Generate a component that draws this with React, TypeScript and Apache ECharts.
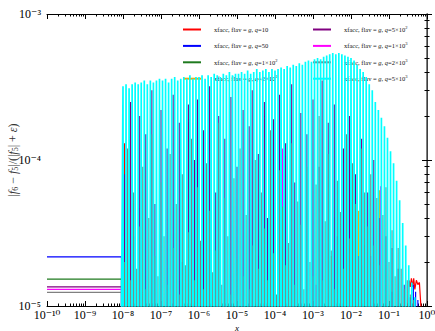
import React, { useEffect, useRef } from 'react';
import * as echarts from 'echarts';

const X_MIN = 1e-10;
const X_MAX = 1;
const Y_MIN = 1e-5;
const Y_MAX = 1e-3;
const FLOOR = 1e-15; // far off-chart trough level

const SERIES_NAMES = ['q10', 'q50', 'q1e2', 'q2e2', 'q5e2', 'q1e3', 'q2e3', 'q5e3'];
const LEGEND_LABELS: Record<string, string> = {
  q10: 'xfacc, flav = {i|g}, {i|q}=10',
  q50: 'xfacc, flav = {i|g}, {i|q}=50',
  q1e2: 'xfacc, flav = {i|g}, {i|q}=1×10{s|2}',
  q2e2: 'xfacc, flav = {i|g}, {i|q}=2×10{s|2}',
  q5e2: 'xfacc, flav = {i|g}, {i|q}=5×10{s|2}',
  q1e3: 'xfacc, flav = {i|g}, {i|q}=1×10{s|3}',
  q2e3: 'xfacc, flav = {i|g}, {i|q}=2×10{s|3}',
  q5e3: 'xfacc, flav = {i|g}, {i|q}=5×10{s|3}',
};
const COLORS = ['#ff0000', '#0000ff', '#1f7a1f', '#ffa500', '#800080', '#ff00ff', '#808080', '#00ffff'];

// value of each curve on the flat stretch 1e-10 .. 1e-8
const FLAT_VALUES = [0.8e-5, 2.17e-5, 1.53e-5, 0.8e-5, 1.35e-5, 1.3e-5, 1.24e-5, 0.8e-5];

// log10(x) sampling points of the oscillating region
const GRID_EXP = [
  -8.0, -7.92, -7.84, -7.76, -7.68, -7.6, -7.52, -7.44, -7.36, -7.28, -7.2, -7.12, -7.04,
  -6.96, -6.88, -6.8, -6.72, -6.64, -6.56, -6.48, -6.4, -6.32, -6.24, -6.16, -6.08,
  -6.0, -5.92, -5.84, -5.76, -5.68, -5.6, -5.52, -5.44, -5.36, -5.28, -5.2, -5.12, -5.04,
  -4.96, -4.88, -4.8, -4.72, -4.64, -4.56, -4.48, -4.4, -4.32, -4.24, -4.16, -4.08,
  -4.0, -3.92, -3.84, -3.76, -3.68, -3.6, -3.52, -3.44, -3.36, -3.28, -3.2, -3.12, -3.04,
  -2.96, -2.88, -2.8, -2.72, -2.64, -2.56, -2.48, -2.4, -2.32, -2.24, -2.16, -2.08,
  -2.0, -1.92, -1.84, -1.76, -1.68, -1.6, -1.52, -1.44, -1.36, -1.28, -1.2, -1.12, -1.04,
  -0.96, -0.88, -0.8, -0.72, -0.64, -0.56, -0.48, -0.4, -0.32,
];

// cyan (q=5e3) peaks, units of 1e-4
const CYAN_PEAKS_E4 = [
  3.2, 3.3, 3.1, 3.3, 3.4, 3.3, 3.4, 3.5, 3.3, 3.5, 3.4, 3.5, 3.6,
  3.5, 3.6, 3.4, 3.6, 3.7, 3.5, 3.6, 3.7, 3.6, 3.8, 3.6, 3.7,
  3.7, 3.8, 3.6, 3.8, 3.7, 3.9, 3.8, 3.7, 3.9, 3.8, 4.0, 3.8, 3.9,
  3.9, 4.0, 3.9, 4.1, 3.9, 4.0, 4.2, 4.0, 4.1, 4.2, 4.0, 4.2,
  4.1, 4.2, 4.3, 4.2, 4.4, 4.3, 4.5, 4.4, 4.6, 4.5, 4.7, 4.8, 4.7,
  4.9, 5.0, 4.9, 5.1, 5.2, 5.3, 5.4, 5.3, 5.4,
  5.3, 5.2, 5.1, 5.0, 4.8,
  4.5, 4.2, 4.0, 3.7, 3.3, 3.0, 2.5, 2.2, 1.95, 1.7, 1.42, 1.15, 0.95, 0.72, 0.53, 0.37, 0.26, 0.19, 0.145, 0.115,
];

// gray (q=2e3) peaks, units of 1e-5
const GRAY_PEAKS_E5 = [
  2.0, 12, 1.5, 6.0, 1.8, 3.5, 9.0, 1.3, 4.0, 15, 2.2, 1.6, 7.0, 3.0, 1.4, 11, 2.5, 5.0, 1.2, 8.0,
  1.9, 3.2, 14, 1.5, 6.5, 2.8, 1.3, 9.5, 4.5, 1.7, 2.4, 18, 1.4, 5.5, 3.0, 1.2, 7.5, 2.1, 12, 1.6,
  4.2, 1.3, 2.6, 10, 1.8, 6.0, 3.4, 1.5, 16, 2.3, 1.2, 8.5, 4.8, 1.9, 2.7, 13, 1.4, 5.2, 3.6, 1.3,
  9.0, 2.0, 1.6, 6.8, 20, 1.5, 3.8, 11, 2.4, 1.3, 7.2, 4.4, 1.8, 15, 2.9, 9.5, 5.0, 2.2, 12, 6.0,
  3.5, 8.0, 2.6, 5.5, 1.9, 4.2, 6.5, 2.0, 3.3, 1.6, 2.5, 1.8, 1.3, 1.5, 1.2, 1.1, 0.9,
];

// purple (q=5e2) peaks, units of 1e-5
const PURPLE_PEAKS_E5 = [
  8, 0.5, 25, 3, 0.5, 20, 0.5, 15, 0.5, 30, 5, 0.5, 22, 0.5, 12, 0.5, 28, 0.5, 18, 2,
  0.5, 24, 0.5, 10, 26, 0.5, 16, 0.5, 32, 0.5, 6, 20, 0.5, 14, 0.5, 27, 0.5, 9, 0.5, 22,
  0.5, 17, 30, 0.5, 11, 0.5, 25, 4, 0.5, 19, 0.5, 28, 0.5, 13, 0.5, 33, 7, 0.5, 21, 0.5,
  15, 0.5, 26, 0.5, 9, 35, 0.5, 18, 0.5, 24, 3, 0.5, 12, 0.5, 20, 0.5, 8, 0.5, 14, 0.5,
  6, 0.5, 10, 0.5, 4, 0.5, 3, 0.5, 2.5, 0.5, 1.8, 0.5, 1.4, 0.5, 0.5, 0.5, 0.5,
];

// isolated spikes: [log10(x), value]
const RED_SPIKES: [number, number][] = [[-7.96, 1.3e-4]];
const RED_TAIL: [number, number][] = [
  [-0.5, 0.95e-5], [-0.47, 1.5e-5], [-0.44, 1.35e-5], [-0.41, 1.55e-5], [-0.38, 1.35e-5],
  [-0.35, 1.55e-5], [-0.32, 1.3e-5], [-0.28, 1.5e-5], [-0.24, 1.4e-5], [-0.2, 1.45e-5], [-0.15, 0.9e-5],
];
const BLUE_SPIKES: [number, number][] = [[-0.92, 1.25e-5], [-0.44, 1.15e-5], [-0.36, 1.4e-5], [-0.3, 1.25e-5], [-0.24, 1.1e-5]];
const GREEN_SPIKES: [number, number][] = [[-4.12, 1.08e-5], [-2.88, 1.1e-5], [-1.72, 1.9e-5], [-1.56, 1.4e-5], [-0.96, 1.2e-5]];
const ORANGE_SPIKES: [number, number][] = [
  [-7.96, 1.9e-5], [-3.64, 1.15e-5], [-2.52, 2.2e-5], [-1.96, 1.9e-5], [-1.8, 4.5e-5], [-1.42, 2.0e-5], [-1.25, 6.2e-5],
];
const MAGENTA_SPIKES: [number, number][] = [
  [-6.04, 1.45e-5], [-3.8, 1.2e-4], [-2.92, 1.4e-5], [-2.04, 2.1e-5], [-1.48, 2.2e-5], [-1.22, 6.6e-5],
];

const SUP: Record<string, string> = { '-': '⁻', '0': '⁰', '1': '¹', '2': '²', '3': '³', '4': '⁴', '5': '⁵', '6': '⁶', '7': '⁷', '8': '⁸', '9': '⁹' };

const HALF = 0.04;
const SPIKE_W = 0.012;

function trainData(flat: number, offset: number, peaks: number[], unit: number) {
  const pts: number[][] = [[X_MIN, flat], [Math.pow(10, GRID_EXP[0] + offset - HALF), flat]];
  GRID_EXP.forEach((e, i) => {
    pts.push([Math.pow(10, e + offset), peaks[i] * unit]);
    pts.push([Math.pow(10, e + offset + HALF), FLOOR]);
  });
  return pts;
}

function sparseData(flat: number, spikes: [number, number][], tail?: [number, number][]) {
  const start = GRID_EXP[0] - HALF;
  const pts: number[][] = [[X_MIN, flat], [Math.pow(10, start), flat], [Math.pow(10, start + 0.005), FLOOR]];
  spikes.forEach(([e, v]) => {
    pts.push([Math.pow(10, e - SPIKE_W), FLOOR]);
    pts.push([Math.pow(10, e), v]);
    pts.push([Math.pow(10, e + SPIKE_W), FLOOR]);
  });
  if (tail) {
    tail.forEach(([e, v]) => pts.push([Math.pow(10, e), v]));
    pts.push([Math.pow(10, tail[tail.length - 1][0] + 0.02), FLOOR]);
  }
  pts.push([X_MAX, FLOOR]);
  return pts;
}

const minorTicks = (lo: number, hi: number) => {
  const out: number[] = [];
  for (let n = lo; n < hi; n++) for (let k = 2; k <= 9; k++) out.push(n + Math.log10(k));
  return out;
};

const SERIF = "'Liberation Serif', 'DejaVu Serif', serif";

const powLabel = (v: number) =>
  '10' + String(Math.round(Math.log10(v))).split('').map((c) => SUP[c] ?? c).join('');

export default function App() {
  const ref = useRef<HTMLDivElement>(null);
  useEffect(() => {
    if (!ref.current) return;
    const chart = echarts.init(ref.current, undefined, { renderer: 'svg' });
    const dataByName: Record<string, number[][]> = {
      q10: sparseData(FLAT_VALUES[0], RED_SPIKES, RED_TAIL),
      q50: sparseData(FLAT_VALUES[1], BLUE_SPIKES),
      q1e2: sparseData(FLAT_VALUES[2], GREEN_SPIKES),
      q2e2: sparseData(FLAT_VALUES[3], ORANGE_SPIKES),
      q5e2: trainData(FLAT_VALUES[4], HALF, PURPLE_PEAKS_E5, 1e-5),
      q1e3: sparseData(FLAT_VALUES[5], MAGENTA_SPIKES),
      q2e3: trainData(FLAT_VALUES[6], HALF, GRAY_PEAKS_E5, 1e-5),
      q5e3: trainData(FLAT_VALUES[7], 0, CYAN_PEAKS_E4, 1e-4),
    };
    const widths: Record<string, number> = { q5e3: 1.7, q2e3: 1.2, q5e2: 1.2 };
    const series = SERIES_NAMES.map((name, i) => ({
      name,
      type: 'line',
      xAxisIndex: 0,
      yAxisIndex: 0,
      data: dataByName[name],
      symbol: 'none',
      clip: true,
      lineStyle: { color: COLORS[i], width: widths[name] ?? 1.2 },
      itemStyle: { color: COLORS[i] },
      z: 2 + i,
    }));
    const legendText = {
      fontSize: 6.5,
      lineHeight: 9,
      fontFamily: SERIF,
      color: '#111',
      padding: [0, 0, 0, 8],
      rich: {
        i: { fontStyle: 'italic', fontSize: 6.5, lineHeight: 9, fontFamily: SERIF, color: '#111' },
        s: { fontSize: 4.5, lineHeight: 4, verticalAlign: 'top', fontFamily: SERIF, color: '#111' },
      },
    };
    const legendBase = {
      orient: 'vertical',
      top: 25,
      padding: 0,
      itemWidth: 18,
      itemHeight: 2,
      itemGap: 7.4,
      icon: 'rect',
      formatter: (n: string) => LEGEND_LABELS[n],
      textStyle: legendText,
      selectedMode: false,
    };
    const hiddenX = (pos: string, ticks: number[] | null, line: boolean) => ({
      type: 'value',
      gridIndex: 0,
      position: pos,
      min: -10,
      max: 0,
      interval: 1,
      axisLine: { show: line, lineStyle: { color: '#000', width: 1 } },
      axisTick: ticks
        ? { show: true, inside: true, length: 2.5, customValues: ticks, lineStyle: { color: '#000' } }
        : { show: true, inside: true, length: 5, lineStyle: { color: '#000' } },
      axisLabel: { show: false },
      splitLine: { show: false },
    });
    const hiddenY = (pos: string, ticks: number[] | null, line: boolean) => ({
      type: 'value',
      gridIndex: 0,
      position: pos,
      min: -5,
      max: -3,
      interval: 1,
      axisLine: { show: line, lineStyle: { color: '#555', width: 1.5 } },
      axisTick: ticks
        ? { show: true, inside: true, length: 2.5, customValues: ticks, lineStyle: { color: '#000' } }
        : { show: true, inside: true, length: 5, lineStyle: { color: '#000' } },
      axisLabel: { show: false },
      splitLine: { show: false },
    });
    chart.setOption({
      animation: false,
      backgroundColor: '#fff',
      grid: { left: 47, right: 8, top: 14, bottom: 25, containLabel: false, outerBoundsMode: 'none' },
      legend: [
        { ...legendBase, left: 183, data: SERIES_NAMES.slice(0, 4) },
        { ...legendBase, left: 313, data: SERIES_NAMES.slice(4) },
      ],
      xAxis: [
        {
          type: 'log',
          logBase: 10,
          min: X_MIN,
          max: X_MAX,
          interval: 1,
          position: 'bottom',
          axisLine: { show: true, lineStyle: { color: '#000', width: 1 } },
          axisTick: { show: true, inside: true, length: 5, lineStyle: { color: '#000' } },
          axisLabel: { formatter: powLabel, margin: 3, fontSize: 12, fontFamily: SERIF, color: '#000', hideOverlap: false },
          splitLine: { show: false },
          name: 'x',
          nameLocation: 'middle',
          nameGap: 17,
          nameMoveOverlap: false,
          nameTextStyle: { fontFamily: SERIF, fontStyle: 'italic', fontSize: 9, color: '#000' },
        },
        hiddenX('top', null, true),
        hiddenX('bottom', minorTicks(-10, 0), false),
        hiddenX('top', minorTicks(-10, 0), false),
      ],
      yAxis: [
        {
          type: 'log',
          logBase: 10,
          min: Y_MIN,
          max: Y_MAX,
          interval: 1,
          position: 'left',
          axisLine: { show: true, lineStyle: { color: '#000', width: 1 } },
          axisTick: { show: true, inside: true, length: 5, lineStyle: { color: '#000' } },
          axisLabel: { formatter: powLabel, margin: 6, fontSize: 12, fontFamily: SERIF, color: '#000' },
          splitLine: { show: false },
          name: '|{i|f}{u|6} − {i|f}{u|5}|/(|{i|f}{u|5}| + {i|ε})',
          nameLocation: 'middle',
          nameGap: 28,
          nameRotate: 90,
          nameMoveOverlap: false,
          nameTextStyle: {
            fontFamily: SERIF,
            fontSize: 12,
            color: '#333',
            rich: {
              i: { fontStyle: 'italic', fontSize: 12, fontFamily: SERIF, color: '#333' },
              u: { fontSize: 8, fontFamily: SERIF, color: '#333', verticalAlign: 'bottom', lineHeight: 12 },
            },
          },
        },
        hiddenY('right', null, true),
        hiddenY('left', minorTicks(-5, -3), false),
        hiddenY('right', minorTicks(-5, -3), false),
      ],
      series,
    });
    return () => chart.dispose();
  }, []);
  return <div ref={ref} style={{ position: 'fixed', left: 0, top: 0, width: 435, height: 331 }} />;
}
